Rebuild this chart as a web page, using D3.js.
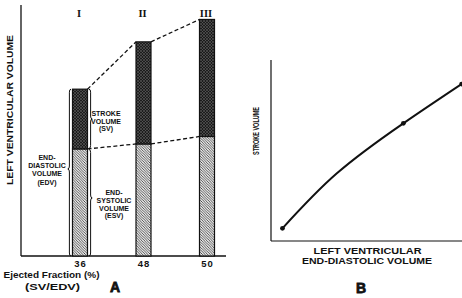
<!DOCTYPE html>
<html>
<head>
<meta charset="utf-8">
<script src="https://cdn.jsdelivr.net/npm/d3@7"></script>
<style>
  body { margin: 0; background: #fff; }
  svg { display: block; }
  text { font-family: "Liberation Sans", "DejaVu Sans", sans-serif; font-weight: bold; fill: #111; }
</style>
</head>
<body>
<svg width="462" height="298"></svg>
<script>
// panel A: three hearts, volumes in arbitrary units
const stages = ["I", "II", "III"];
const edv = [67, 86, 95];      // end-diastolic volume
const esv = [43, 45, 48];      // end-systolic volume
const ejectedFraction = ["36", "48", "50"];

// panel B: stroke volume vs end-diastolic volume
const curveEdv = [6, 34.5, 69.3, 99.8];
const curveSv = [7, 37.4, 65, 86.7];
const dotIndex = [0, 2, 3];

const svg = d3.select("svg");
const defs = svg.append("defs");

// dark speckled hatch for the stroke volume part
const p1 = defs.append("pattern").attr("id", "sv").attr("patternUnits", "userSpaceOnUse")
  .attr("width", 3).attr("height", 3);
p1.append("rect").attr("width", 3).attr("height", 3).attr("fill", "#1c1c1c");
p1.append("path").attr("d", "M0,0L3,3M3,0L0,3").attr("stroke", "#6a6a6a").attr("stroke-width", 0.5);

// diagonal hatch for the end-systolic part
const p2 = defs.append("pattern").attr("id", "esv").attr("patternUnits", "userSpaceOnUse")
  .attr("width", 2.6).attr("height", 2.6);
p2.append("rect").attr("width", 2.6).attr("height", 2.6).attr("fill", "#e6e6e6");
p2.append("path").attr("d", "M-1,-1L3.6,3.6M-1,1.6L1,3.6M1.6,-1L3.6,1").attr("stroke", "#3a3a3a").attr("stroke-width", 0.8);

// text with a fixed drawn width, the lettering in the original is condensed
function label(g, x, y, s, size, len) {
  return g.append("text").attr("x", x).attr("y", y).attr("text-anchor", "middle")
    .attr("font-size", size).attr("textLength", len).attr("lengthAdjust", "spacingAndGlyphs")
    .text(s);
}

// ---------- panel A ----------
const xA = d3.scalePoint().domain(stages).range([80, 207]);
const yA = d3.scaleLinear().domain([0, 100]).range([256, 7]);
const barW = 15;

const gA = svg.append("g");

gA.append("line").attr("x1", 21).attr("x2", 21).attr("y1", 5).attr("y2", yA(0))
  .attr("stroke", "#111").attr("stroke-width", 1.3);
gA.append("line").attr("x1", 21).attr("x2", 226).attr("y1", yA(0)).attr("y2", yA(0))
  .attr("stroke", "#111").attr("stroke-width", 1.3);

label(gA, 0, 0, "LEFT VENTRICULAR VOLUME", 9.5, 150)
  .attr("transform", "translate(13,110) rotate(-90)");

// dashed lines linking the bar tops and the ESV levels
const links = [];
for (let i = 0; i < stages.length - 1; i++) {
  links.push([xA(stages[i]) + barW / 2, yA(edv[i]), xA(stages[i + 1]) - barW / 2, yA(edv[i + 1])]);
  links.push([xA(stages[i]) + barW / 2, yA(esv[i]), xA(stages[i + 1]) - barW / 2, yA(esv[i + 1])]);
}
gA.selectAll("line.link").data(links).enter().append("line")
  .attr("class", "link")
  .attr("x1", d => d[0]).attr("y1", d => d[1]).attr("x2", d => d[2]).attr("y2", d => d[3])
  .attr("stroke", "#111").attr("stroke-width", 1.3).attr("stroke-dasharray", "4,2.5");

const bars = gA.selectAll("g.bar").data(stages).enter().append("g").attr("class", "bar");
bars.append("rect")
  .attr("x", d => xA(d) - barW / 2).attr("width", barW)
  .attr("y", (d, i) => yA(esv[i])).attr("height", (d, i) => yA(0) - yA(esv[i]))
  .attr("fill", "url(#esv)").attr("stroke", "#111").attr("stroke-width", 1.2);
bars.append("rect")
  .attr("x", d => xA(d) - barW / 2).attr("width", barW)
  .attr("y", (d, i) => yA(edv[i])).attr("height", (d, i) => yA(esv[i]) - yA(edv[i]))
  .attr("fill", "url(#sv)").attr("stroke", "#111").attr("stroke-width", 1.2);

bars.append("text").attr("x", d => xA(d) - 1).attr("y", 17)
  .attr("text-anchor", "middle").attr("font-size", 10.5)
  .style("font-family", "'Liberation Serif', serif")
  .text(d => d);

bars.append("text").attr("x", d => xA(d) + 0.5).attr("y", 267)
  .attr("text-anchor", "middle").attr("font-size", 9.5).attr("letter-spacing", 1)
  .text((d, i) => ejectedFraction[i]);

label(gA, 51.5, 278, "Ejected Fraction (%)", 9.5, 96);
label(gA, 52.5, 289.5, "(SV/EDV)", 9, 55);
gA.append("text").attr("x", 115).attr("y", 292).attr("text-anchor", "middle")
  .attr("font-size", 14).attr("font-weight", 900)
  .attr("stroke", "#111").attr("stroke-width", 0.8).text("A");

// curly braces around bar I
function brace(x0, y1, y2, ym, dir, w) {
  const r = 3;
  const xa = x0 + dir * w;
  return `M${x0},${y1} Q${xa},${y1} ${xa},${y1 + r} L${xa},${ym - r} Q${xa},${ym} ${x0 + dir * 2 * w},${ym}` +
    ` Q${xa},${ym} ${xa},${ym + r} L${xa},${y2 - r} Q${xa},${y2} ${x0},${y2}`;
}
const b0 = xA(stages[0]);
const braces = [
  [b0 - barW / 2 - 1.5, yA(edv[0]), yA(0), 169, -1],
  [b0 + barW / 2 + 1.5, yA(edv[0]), yA(esv[0]) - 0.5, 119, 1],
  [b0 + barW / 2 + 1.5, yA(esv[0]) + 0.5, yA(0), 198, 1]
];
gA.selectAll("path.brace").data(braces).enter().append("path")
  .attr("class", "brace")
  .attr("d", d => brace(d[0], d[1], d[2], d[3], d[4], 1.6))
  .attr("fill", "none").attr("stroke", "#111").attr("stroke-width", 1);

function block(x, y, lines, size, step) {
  const t = gA.append("text").attr("text-anchor", "middle").attr("font-size", size);
  lines.forEach((s, i) => t.append("tspan").attr("x", x).attr("y", y + i * step).text(s));
}
block(106, 116, ["STROKE", "VOLUME", "(SV)"], 7, 7.7);
block(47, 160, ["END-", "DIASTOLIC", "VOLUME", "(EDV)"], 7, 8.2);
block(114, 195, ["END-", "SYSTOLIC", "VOLUME", "(ESV)"], 7, 7.8);

// ---------- panel B ----------
const xB = d3.scaleLinear().domain([0, 100]).range([271, 462]);
const yB = d3.scaleLinear().domain([0, 100]).range([241, 60]);
const gB = svg.append("g");

gB.append("line").attr("x1", xB(0)).attr("x2", xB(0)).attr("y1", yB(100)).attr("y2", yB(0))
  .attr("stroke", "#111").attr("stroke-width", 1.2);
gB.append("line").attr("x1", xB(0)).attr("x2", xB(100)).attr("y1", yB(0)).attr("y2", yB(0))
  .attr("stroke", "#111").attr("stroke-width", 1.2);

const pts = curveEdv.map((v, i) => [v, curveSv[i]]);
gB.append("path").datum(pts)
  .attr("d", d3.line().x(d => xB(d[0])).y(d => yB(d[1])).curve(d3.curveNatural))
  .attr("fill", "none").attr("stroke", "#111").attr("stroke-width", 2);
gB.selectAll("circle").data(dotIndex.map(i => pts[i])).enter().append("circle")
  .attr("cx", d => xB(d[0])).attr("cy", d => yB(d[1])).attr("r", 2.4).attr("fill", "#111");

label(gB, 0, 0, "STROKE VOLUME", 8.5, 48)
  .attr("transform", "translate(258.5,131) rotate(-90)");
label(gB, 367.5, 254, "LEFT VENTRICULAR", 8.5, 108);
label(gB, 367, 264, "END-DIASTOLIC VOLUME", 8.5, 130);
gB.append("text").attr("x", 361).attr("y", 293).attr("text-anchor", "middle")
  .attr("font-size", 14).attr("font-weight", 900)
  .attr("stroke", "#111").attr("stroke-width", 0.8).text("B");
</script>
</body>
</html>
